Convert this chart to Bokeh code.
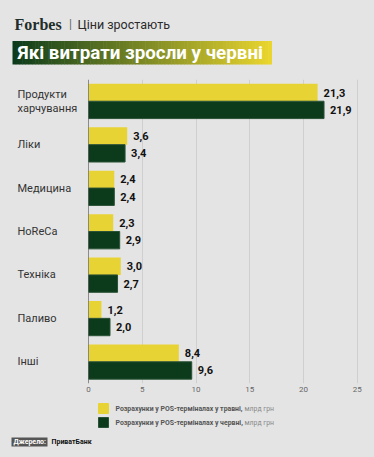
import numpy as np
from bokeh.plotting import figure
from bokeh.layouts import column, row
from bokeh.models import ColumnDataSource, Range1d, FactorRange, Span, GlobalInlineStyleSheet
from bokeh.transform import dodge
from bokeh.core.properties import value
from bokeh.embed import file_html
from bokeh.resources import INLINE

# ---- data ----
categories = ["Продукти\nхарчування", "Ліки", "Медицина", "HoReCa", "Техніка", "Паливо", "Інші"]
may_values = [21.3, 3.6, 2.4, 2.3, 3.0, 1.2, 8.4]
june_values = [21.9, 3.4, 2.4, 2.9, 2.7, 2.0, 9.6]
x_ticks = [0, 5, 10, 15, 20, 25]
legend_labels = ["Розрахунки у POS-терміналах у травні,", "Розрахунки у POS-терміналах у червні,"]
legend_unit = "млрд грн"
header_brand = "Forbes"
header_section = "Ціни зростають"
title_text = "Які витрати зросли у червні"
source_label = "Джерело:"
source_name = "ПриватБанк"

BG = "#e4e4e4"
YELLOW = "#e8d334"
GREEN = "#0b3b1b"
FONT = "Roboto"
W = 374
LABW = 84


def fmt(v):
    return f"{v:.1f}".replace(".", ",")


def blank(fig):
    fig.axis.visible = False
    fig.grid.visible = False
    fig.outline_line_color = None
    fig.background_fill_color = BG
    fig.border_fill_color = BG


# ---- header ----
hh = 70
head = figure(width=W, height=hh, x_range=Range1d(0, W), y_range=Range1d(hh, 0),
              output_backend="svg", toolbar_location=None, min_border=0, frame_align=False)
blank(head)

head.text(x=[14], y=[23.5], text=[header_brand], text_font=value("Liberation Serif"),
          text_font_style="bold", text_font_size="16px", text_color="#1f2d2b",
          text_baseline="middle", text_align="left")
head.text(x=[68.5], y=[23.5], text=["|"], text_font=value(FONT), text_font_size="12px",
          text_color="#666666", text_baseline="middle", text_align="left")
head.text(x=[77], y=[23.5], text=[header_section], text_font=value(FONT), text_font_size="12.5px",
          text_color="#2b2b2b", text_baseline="middle", text_align="left")

# gradient title box
n = 80
bx0, bx1, by0, by1 = 12, 271, 40.5, 64
edges = np.linspace(bx0, bx1, n + 1)
c0 = np.array([0x0b, 0x3b, 0x1b]); c1 = np.array([0xeb, 0xd6, 0x2f])
cols = []
for i in range(n):
    t = (i + 0.5) / n
    c = (c0 * (1 - t) + c1 * t).astype(int)
    cols.append("#%02x%02x%02x" % tuple(c))
head.quad(left=edges[:-1], right=edges[1:] + 0.5, top=by0, bottom=by1, fill_color=cols, line_color=None)
head.text(x=[17], y=[(by0 + by1) / 2 + 0.5], text=[title_text], text_font=value(FONT),
          text_font_style="bold", text_font_size="18.8px", text_color="white",
          text_baseline="middle", text_align="left")

# ---- main chart ----
factors = list(reversed(categories))
src = ColumnDataSource(dict(cat=categories, may=may_values, june=june_values,
                            may_txt=[fmt(v) for v in may_values],
                            june_txt=[fmt(v) for v in june_values]))
yr = FactorRange(*factors, range_padding=0)

p = figure(width=W - LABW, height=328, y_range=yr,
           x_range=Range1d(0, 25.85), output_backend="svg", toolbar_location=None,
           min_border_left=4, min_border_right=8, min_border_top=9, min_border_bottom=15,
           frame_align=False)
p.background_fill_color = BG
p.border_fill_color = BG
p.outline_line_color = None
p.yaxis.visible = False
p.ygrid.visible = False
p.xgrid.grid_line_color = "#cfcfcf"
p.xgrid.grid_line_width = 1
p.xaxis.ticker = x_ticks
p.xaxis.axis_line_color = None
p.xaxis.major_tick_line_color = None
p.xaxis.minor_tick_line_color = None
p.xaxis.major_tick_out = 0
p.xaxis.major_label_standoff = 3
p.xaxis.major_label_text_font = FONT
p.xaxis.major_label_text_font_size = "8px"
p.xaxis.major_label_text_color = "#666666"

p.hbar(y=dodge("cat", 0.2, range=p.y_range), left=0, right="may", height=0.4,
       fill_color=YELLOW, line_color=None, source=src)
p.hbar(y=dodge("cat", -0.2, range=p.y_range), left=0, right="june", height=0.4,
       fill_color=GREEN, line_color="#2a5236", line_width=1, source=src)
p.add_layout(Span(location=0, dimension="height", line_color="#333333", line_width=1))

p.text(x="may", y=dodge("cat", 0.2, range=p.y_range), text="may_txt", x_offset=6, source=src,
       text_font=value(FONT), text_font_style="bold", text_font_size="11px",
       text_color="#111111", text_baseline="middle", text_align="left")
p.text(x="june", y=dodge("cat", -0.2, range=p.y_range), text="june_txt", x_offset=6, source=src,
       text_font=value(FONT), text_font_style="bold", text_font_size="11px",
       text_color="#111111", text_baseline="middle", text_align="left")

# ---- category labels (left panel sharing the category range) ----
lab = figure(width=LABW, height=328, y_range=yr, x_range=Range1d(0, LABW),
             output_backend="svg", toolbar_location=None, min_border_left=0, min_border_right=0,
             min_border_top=9, min_border_bottom=15, frame_align=False)
blank(lab)
lab.text(x=17, y="cat", text="cat", source=src, text_font=value(FONT), text_font_size="11px",
         text_color="#333333", text_baseline="middle", text_align="left", text_line_height=1.05)

# ---- legend / source ----
lh = 457 - hh - 328
leg = figure(width=W, height=lh, x_range=Range1d(0, W), y_range=Range1d(lh, 0),
             output_backend="svg", toolbar_location=None, min_border=0, frame_align=False)
blank(leg)

leg.quad(left=[98, 98], right=[108, 108], top=[5, 19], bottom=[15, 29],
         fill_color=[YELLOW, GREEN], line_color=[YELLOW, "#2a5236"])
leg.text(x=[115, 115], y=[10, 24], text=legend_labels, text_font=value(FONT),
         text_font_style="bold", text_font_size="6.9px", text_color="#555555",
         text_baseline="middle", text_align="left")
leg.text(x=[244, 244], y=[10, 24], text=[legend_unit, legend_unit], text_font=value(FONT),
         text_font_size="6.9px", text_color="#8a8a8a", text_baseline="middle", text_align="left")

leg.quad(left=[11], right=[47], top=[39], bottom=[48], fill_color="#555555", line_color=None)
leg.text(x=[13], y=[43.5], text=[source_label], text_font=value(FONT), text_font_style="bold",
         text_font_size="7px", text_color="white", text_baseline="middle", text_align="left")
leg.text(x=[51], y=[43.5], text=[source_name], text_font=value(FONT), text_font_style="bold",
         text_font_size="7px", text_color="#111111", text_baseline="middle", text_align="left")

layout = column(head, row(lab, p, spacing=0), leg, spacing=0)
layout.stylesheets = [GlobalInlineStyleSheet(css="body { background-color: #e4e4e4; }")]

open("out.html", "w").write(file_html(layout, INLINE))
